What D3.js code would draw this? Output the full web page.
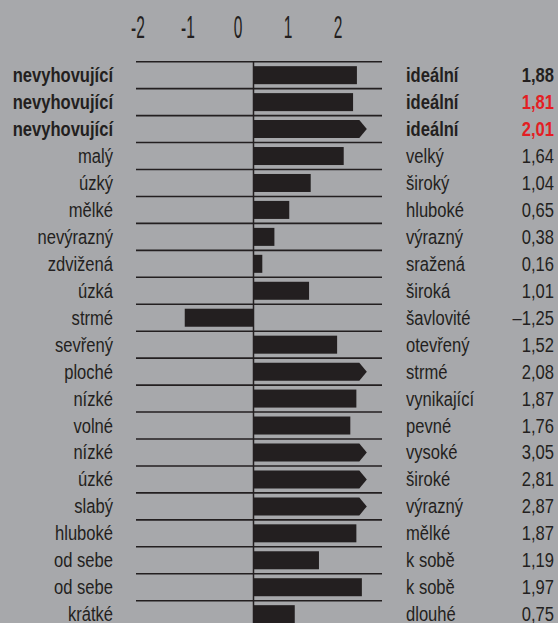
<!DOCTYPE html>
<html><head><meta charset="utf-8">
<script src="https://cdn.jsdelivr.net/npm/d3@7"></script>
<style>
html,body{margin:0;padding:0;background:#a7a8ab;}
svg{display:block;}
text{font-family:"Liberation Sans",Arial,sans-serif;}
</style></head><body>
<svg id="c" width="558" height="623"></svg>
<script>
const leftLabels = ["nevyhovující","nevyhovující","nevyhovující","malý","úzký","mělké","nevýrazný","zdvižená","úzká","strmé","sevřený","ploché","nízké","volné","nízké","úzké","slabý","hluboké","od sebe","od sebe","krátké"];
const rightLabels = ["ideální","ideální","ideální","velký","široký","hluboké","výrazný","sražená","široká","šavlovité","otevřený","strmé","vynikající","pevné","vysoké","široké","výrazný","mělké","k sobě","k sobě","dlouhé"];
const values = [1.88,1.81,2.01,1.64,1.04,0.65,0.38,0.16,1.01,-1.25,1.52,2.08,1.87,1.76,3.05,2.81,2.87,1.87,1.19,1.97,0.75];
const boldRows = [0,1,2];
const redRows = [1,2];
const tickValues = [-2,-1,0,1,2];

const svg = d3.select("#c");
const dark = "#231f20";
const red = "#e31e24";

const x = d3.scaleLinear().domain([-2.136, 2.336]).range([136, 382]);
const xTick = d3.scaleLinear().domain([-2, 2]).range([138, 338]);
const y = d3.scaleBand().domain(d3.range(values.length)).range([61.7, 61.7 + 26.95*values.length]).paddingInner(0).paddingOuter(0);
const capVal = 2.06; // arrow tip position for truncated bars

// tick labels
svg.append("g").selectAll("text").data(tickValues).join("text")
  .attr("transform", d => `translate(${xTick(d)},37.5) scale(0.5,1)`)
  .attr("text-anchor","middle")
  .attr("font-size", 31)
  .attr("fill", dark)
  .text(d => d < 0 ? "-" + Math.abs(d) : d);

// horizontal grid lines (row separators)
svg.append("g").selectAll("line").data(d3.range(values.length)).join("line")
  .attr("x1", x.range()[0]).attr("x2", x.range()[1])
  .attr("y1", i => y(i)).attr("y2", i => y(i))
  .attr("stroke", dark).attr("stroke-width", 1.6);

// bars
const bh = 18;
const g = svg.append("g");
values.forEach((v, i) => {
  const cy = y(i) + y.bandwidth()/2;
  const top = cy - bh/2, bot = cy + bh/2;
  if (v > 2.0) {
    const tip = x(capVal), body = tip - 7.5;
    g.append("path")
      .attr("d", `M${x(0)},${top}L${body},${top}L${tip},${cy}L${body},${bot}L${x(0)},${bot}Z`)
      .attr("fill", dark);
  } else {
    g.append("rect")
      .attr("x", x(Math.min(0, v))).attr("width", Math.abs(x(v) - x(0)))
      .attr("y", top).attr("height", bh)
      .attr("fill", dark);
  }
});

// zero line
svg.append("line")
  .attr("x1", x(0)).attr("x2", x(0))
  .attr("y1", y(0)).attr("y2", 623)
  .attr("stroke", dark).attr("stroke-width", 1.5);

// labels
const fs = 19.5;
const sx = 0.85;
const fmt = v => (v < 0 ? "\u2013" : "") + Math.abs(v).toFixed(2).replace(".", ",");
const rows = svg.append("g").selectAll("g").data(values).join("g")
  .attr("transform", (d,i) => `translate(0,${y(i) + y.bandwidth()/2 + 7})`);
const cols = [
  {x: 113, anchor: "end", text: (d,i) => leftLabels[i], fill: () => dark},
  {x: 406, anchor: "start", text: (d,i) => rightLabels[i], fill: () => dark},
  {x: 554, anchor: "end", text: d => fmt(d), fill: (d,i) => redRows.includes(i) ? red : dark}
];
cols.forEach(c => {
  rows.append("text")
    .attr("transform", `translate(${c.x},0) scale(${sx},1)`)
    .attr("text-anchor", c.anchor)
    .attr("font-size", fs)
    .attr("font-weight", (d,i) => boldRows.includes(i) ? "bold" : "normal")
    .attr("fill", c.fill)
    .text(c.text);
});
</script>
</body></html>
